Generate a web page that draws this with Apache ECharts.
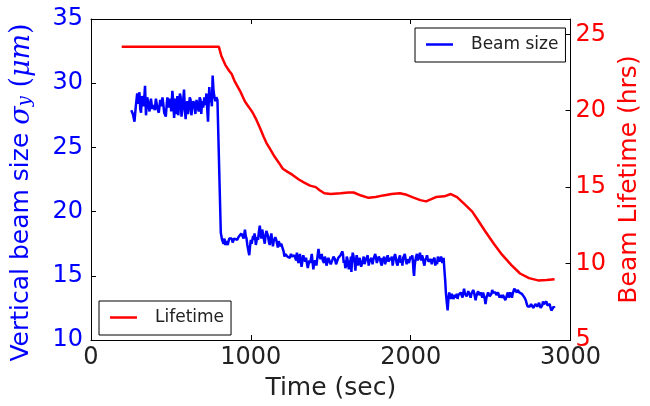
<!DOCTYPE html>
<html>
<head>
<meta charset="utf-8">
<script src="https://cdn.jsdelivr.net/npm/echarts@6/dist/echarts.min.js"></script>
<style>html,body{margin:0;padding:0;background:#fff}#c{width:650px;height:406px}</style>
</head>
<body>
<div id="c"></div>
<script>
// Vertical beam size (um) vs time (sec), in four stretches
var beamBefore = [[252,27.9],[262,27.6],[272,27.0],[281,28.3],[289,29.2],[296,28.4],[303,29.3],[308,28.0],[313,27.7],[318,29.0],[323,28.9],[330,28.2],[338,29.8],[344,27.5],[352,28.9],[359,28.4],[366,27.8],[375,28.8],[383,28.0],[391,28.3],[399,27.9],[406,28.8],[416,28.0],[424,27.7],[433,28.7],[440,28.2],[447,28.9],[453,28.3],[458,27.7],[468,27.4],[474,28.4],[478,28.9],[486,28.1],[495,28.8],[502,27.8],[509,29.4],[515,28.5],[520,27.3],[526,28.8],[530,28.2],[535,27.6],[540,29.0],[546,27.5],[551,28.3],[556,29.2],[561,28.9],[566,27.4],[571,27.9],[577,28.7],[582,29.5],[587,28.0],[592,27.2],[597,28.2],[602,28.6],[607,27.6],[612,28.1],[618,28.9],[623,28.7],[628,27.5],[633,28.0],[640,28.6],[647,28.4],[653,27.6],[660,28.7],[667,28.2],[674,27.8],[680,28.9],[685,28.7],[690,27.6],[695,28.6],[702,28.1],[709,28.9],[716,28.3],[722,29.2],[727,28.0],[732,27.0],[736,28.4],[740,29.7],[746,28.5],[751,29.0],[756,28.2],[761,30.6],[766,29.5],[771,29.0],[778,28.6],[784,28.9],[791,28.7],[798,28.8]];
var beamStep1 = [[812,18.35],[820,17.8],[829,17.5],[835,17.9],[840,17.4],[846,17.7],[850,17.8],[855,17.4],[860,17.5],[865,17.9],[870,17.8],[875,18.0],[880,17.9],[886,17.6],[891,17.7],[896,17.9],[901,17.8],[908,17.9],[915,17.8],[922,18.0],[932,18.1],[940,18.3],[948,18.2],[955,17.9],[963,18.6],[968,18.1],[973,17.9],[978,17.4],[983,17.3],[990,16.6],[995,17.3],[1000,17.8],[1005,17.5],[1010,17.6],[1014,18.1],[1019,17.8],[1023,18.3],[1027,18.0],[1031,17.4],[1035,17.3],[1040,18.0],[1045,17.8],[1050,18.4],[1056,18.9],[1061,18.2],[1066,17.9],[1071,18.6],[1076,18.5],[1081,17.9],[1087,17.5],[1092,18.1],[1097,18.5],[1102,18.3],[1107,18.1],[1112,17.7],[1118,17.4],[1123,17.9],[1128,18.3],[1133,17.8],[1138,17.3],[1143,17.7],[1148,17.6],[1153,18.0],[1159,17.8],[1164,17.5],[1169,17.2],[1174,17.7],[1179,17.7],[1185,17.3],[1190,17.5],[1195,17.3],[1200,17.2],[1205,16.9],[1210,16.5]];
var beamStep2 = [[1215,16.7],[1221,16.6],[1229,16.5],[1237,16.6],[1244,16.4],[1251,16.7],[1258,16.5],[1266,16.4],[1272,16.6],[1278,16.5],[1283,16.2],[1288,16.8],[1293,16.2],[1299,16.0],[1303,16.4],[1307,16.7],[1312,16.2],[1317,15.7],[1322,16.1],[1328,16.6],[1334,16.3],[1340,16.1],[1345,16.4],[1350,16.3],[1356,15.6],[1361,15.9],[1366,16.2],[1371,16.0],[1376,16.3],[1381,16.7],[1386,16.1],[1391,15.5],[1396,16.0],[1402,16.2],[1406,16.0],[1410,15.8],[1416,16.4],[1423,17.1],[1427,16.7],[1430,16.5],[1436,16.3],[1443,16.7],[1450,16.2],[1458,16.0],[1463,16.5],[1468,16.3],[1473,15.8],[1478,16.0],[1485,16.4],[1493,16.4],[1500,15.9],[1509,16.2],[1517,16.5],[1526,16.3],[1533,15.9],[1540,16.0],[1547,16.4],[1555,16.3],[1561,16.6],[1567,16.6],[1572,16.9],[1576,16.7],[1581,16.0],[1586,16.2],[1591,15.6],[1596,15.8],[1600,16.5],[1604,16.3],[1609,15.9],[1613,15.5],[1618,16.2],[1622,16.0],[1626,16.5],[1629,15.3],[1633,16.2],[1637,16.8],[1641,16.6],[1645,16.3],[1650,16.0],[1654,15.4],[1658,16.2],[1662,16.6],[1666,16.3],[1670,15.8],[1676,16.2],[1681,16.4],[1685,16.0],[1690,15.7],[1696,16.0],[1701,16.2],[1706,16.5],[1711,15.9],[1718,16.2],[1726,16.3],[1731,16.6],[1737,15.8],[1742,16.1],[1748,16.0],[1755,16.4],[1761,15.9],[1767,16.3],[1773,16.2],[1778,16.7],[1783,16.4],[1788,16.0],[1794,15.9],[1800,16.5],[1808,16.3],[1813,16.0],[1819,15.8],[1824,16.4],[1829,16.2],[1834,16.5],[1839,15.9],[1847,16.2],[1856,16.6],[1861,16.1],[1866,16.0],[1871,16.4],[1876,16.2],[1882,16.5],[1887,15.8],[1892,16.2],[1897,16.3],[1902,16.7],[1907,16.4],[1912,16.0],[1918,15.8],[1923,16.2],[1928,16.3],[1933,16.6],[1938,16.0],[1943,16.3],[1948,15.8],[1953,16.4],[1959,16.3],[1963,16.7],[1967,16.6],[1971,16.1],[1975,15.9],[1980,16.3],[1984,16.4],[1989,16.0],[1994,16.0],[1999,16.5],[2004,16.3],[2010,16.6],[2015,15.9],[2018,15.3],[2021,15.0],[2025,15.8],[2029,16.2],[2034,16.5],[2039,16.7],[2044,16.2],[2049,16.3],[2053,16.5],[2058,16.8],[2062,16.4],[2066,16.2],[2071,16.6],[2076,16.4],[2081,16.0],[2086,15.8],[2091,16.2],[2097,16.4],[2102,16.6],[2107,16.3],[2112,16.1],[2117,16.0],[2125,16.3],[2132,15.9],[2138,16.2],[2144,16.2],[2149,16.4],[2154,15.8],[2160,16.1],[2165,15.9],[2170,16.5],[2175,16.4],[2180,16.1],[2185,16.0],[2190,16.5],[2194,16.3],[2198,16.0],[2202,15.9],[2206,16.4],[2210,15.6]];
var beamStep3 = [[2216,14.6],[2220,13.7],[2226,12.9],[2231,12.3],[2236,13.2],[2241,13.7],[2246,13.4],[2252,13.2],[2257,13.6],[2262,13.5],[2267,13.2],[2272,13.2],[2277,13.5],[2283,13.3],[2288,13.6],[2293,13.2],[2298,13.5],[2303,13.6],[2308,13.4],[2313,13.7],[2318,13.5],[2324,13.3],[2329,13.7],[2334,14.0],[2339,13.6],[2345,13.7],[2350,13.4],[2355,13.5],[2360,13.8],[2365,13.9],[2370,13.5],[2375,13.3],[2380,13.6],[2386,13.6],[2391,13.9],[2396,13.7],[2401,13.4],[2406,13.1],[2412,13.5],[2417,13.6],[2422,13.8],[2427,13.5],[2432,13.6],[2437,13.7],[2443,13.5],[2448,13.3],[2453,13.7],[2458,13.6],[2463,13.2],[2468,12.8],[2474,13.3],[2479,13.5],[2484,13.7],[2489,13.6],[2494,13.4],[2499,13.3],[2505,13.6],[2510,13.9],[2515,13.7],[2520,13.6],[2525,13.8],[2530,13.7],[2536,13.5],[2541,13.5],[2546,13.7],[2551,13.6],[2556,13.3],[2561,13.5],[2566,13.6],[2571,13.3],[2577,13.5],[2582,13.6],[2587,13.4],[2592,13.1],[2597,13.3],[2602,13.5],[2608,13.7],[2613,13.3],[2618,13.5],[2623,13.7],[2628,13.5],[2633,13.3],[2638,13.6],[2643,13.7],[2648,14.0],[2654,14.1],[2659,13.9],[2664,13.7],[2669,13.9],[2674,13.9],[2679,13.7],[2684,13.6],[2690,13.7],[2695,13.6],[2700,13.5],[2705,13.5],[2712,13.3],[2720,13.1],[2726,12.8],[2732,12.6],[2739,12.5],[2746,12.6],[2753,12.8],[2761,12.7],[2767,12.5],[2773,12.6],[2780,12.8],[2787,12.8],[2792,12.6],[2797,12.6],[2803,12.9],[2808,12.8],[2813,12.5],[2818,12.4],[2823,12.7],[2828,13.0],[2833,12.8],[2839,12.7],[2844,12.8],[2849,13.0],[2854,12.7],[2859,12.6],[2864,12.8],[2869,12.8],[2875,12.5],[2880,12.3],[2885,12.4],[2890,12.4],[2895,12.6],[2900,12.5]];
// Beam lifetime (hrs) vs time (sec)
var lifeTime = [192,800,815,840,865,880,900,932,963,990,1010,1035,1060,1080,1097,1120,1148,1175,1200,1230,1261,1300,1334,1370,1406,1430,1460,1499,1561,1610,1643,1690,1736,1780,1829,1880,1932,1975,2014,2060,2096,2125,2158,2210,2251,2290,2340,2385,2420,2467,2520,2570,2630,2684,2740,2797,2850,2900];
var lifeHours = [24.18,24.18,23.6,23.0,22.6,22.4,21.9,21.3,20.6,20.2,19.9,19.4,18.8,18.3,17.9,17.5,17.0,16.6,16.2,16.0,15.8,15.5,15.3,15.1,15.0,14.8,14.6,14.55,14.6,14.65,14.65,14.45,14.3,14.35,14.46,14.55,14.6,14.5,14.33,14.15,14.07,14.2,14.35,14.4,14.55,14.35,13.85,13.4,12.85,12.1,11.3,10.6,9.9,9.35,9.05,8.9,8.93,8.98];
var xTicks = {min: 0, max: 3000, step: 1000};
var yLeftTicks = {min: 10, max: 35, step: 5};
var yRightTicks = {min: 5, max: 26, step: 5};

var beamData = beamBefore.concat(beamStep1, beamStep2, beamStep3);
var lifeData = lifeTime.map(function (t, i) { return [t, lifeHours[i]]; });

var FONT = 'DejaVu Sans';
var chart = echarts.init(document.getElementById('c'), null, {renderer: 'canvas'});
var spine = {show: true, onZero: false, lineStyle: {color: '#000', width: 1}};
var tick = {show: true, inside: true, length: 5, lineStyle: {color: '#000'}};
function plain(v) { return String(v); }
chart.setOption({
  animation: false,
  backgroundColor: '#fff',
  textStyle: {fontFamily: FONT},
  grid: {left: 91, right: 74, top: 19, bottom: 63, containLabel: false},
  legend: [
    {data: ['Beam size'], left: 415, top: 28, orient: 'vertical', icon: 'rect', itemWidth: 27, itemHeight: 2.5,
     padding: [8, 7, 9, 11], borderColor: '#000', borderWidth: 1, borderRadius: 0,
     textStyle: {fontFamily: FONT, fontSize: 17, color: '#222', padding: [0, 0, 0, 13]}},
    {data: ['Lifetime'], left: 99, top: 301, orient: 'vertical', icon: 'rect', itemWidth: 27, itemHeight: 2.5,
     padding: [8, 7, 9, 11], borderColor: '#000', borderWidth: 1, borderRadius: 0,
     textStyle: {fontFamily: FONT, fontSize: 17, color: '#222', padding: [0, 0, 0, 13]}}
  ],
  xAxis: [
    {type: 'value', position: 'bottom', min: xTicks.min, max: xTicks.max, interval: xTicks.step,
     axisLine: spine, axisTick: tick,
     axisLabel: {fontSize: 24, color: '#222', margin: 6, fontFamily: FONT, formatter: plain},
     splitLine: {show: false},
     name: 'Time (sec)', nameLocation: 'middle', nameGap: 36,
     nameTextStyle: {fontSize: 25, color: '#222', fontFamily: FONT}},
    {type: 'value', position: 'top', min: xTicks.min, max: xTicks.max, interval: xTicks.step,
     axisLine: spine, axisTick: tick, axisLabel: {show: false}, splitLine: {show: false}}
  ],
  yAxis: [
    {type: 'value', position: 'left', min: yLeftTicks.min, max: yLeftTicks.max, interval: yLeftTicks.step,
     axisLine: spine, axisTick: tick,
     axisLabel: {fontSize: 24, color: '#0000ff', margin: 8, fontFamily: FONT, formatter: plain},
     splitLine: {show: false},
     name: 'Vertical beam size {it|σ}{sub|y}{n| (}{it|μm}{n|)}', nameLocation: 'middle', nameGap: 57, nameRotate: 90,
     nameTextStyle: {fontSize: 25, color: '#0000ff', fontFamily: FONT, padding: [0, 26, 0, 0],
       rich: {
         it: {fontSize: 27, color: '#0000ff', fontFamily: 'DejaVu Serif', fontStyle: 'italic', lineHeight: 25},
         n: {fontSize: 27, color: '#0000ff', fontFamily: 'DejaVu Serif', lineHeight: 25},
         sub: {fontSize: 18, color: '#0000ff', fontFamily: 'DejaVu Serif', fontStyle: 'italic', lineHeight: 8, verticalAlign: 'bottom'}
       }}},
    {type: 'value', position: 'right', min: yRightTicks.min, max: yRightTicks.max, interval: yRightTicks.step,
     axisLine: spine, axisTick: tick,
     axisLabel: {fontSize: 24, color: '#ff0000', margin: 5, fontFamily: FONT, showMaxLabel: false,
       formatter: function (v) { return v % 5 === 0 ? String(v) : ''; }},
     splitLine: {show: false},
     name: 'Beam Lifetime (hrs)', nameLocation: 'middle', nameGap: 37, nameRotate: 90,
     nameTextStyle: {fontSize: 25, color: '#ff0000', fontFamily: FONT}}
  ],
  series: [
    {name: 'Beam size', type: 'line', xAxisIndex: 0, yAxisIndex: 0, showSymbol: false, symbol: 'none',
     data: beamData, color: '#0000ff', lineStyle: {width: 2.5, color: '#0000ff'}},
    {name: 'Lifetime', type: 'line', xAxisIndex: 0, yAxisIndex: 1, showSymbol: false, symbol: 'none',
     data: lifeData, color: '#ff0000', lineStyle: {width: 2.5, color: '#ff0000'}}
  ]
});
</script>
</body>
</html>
